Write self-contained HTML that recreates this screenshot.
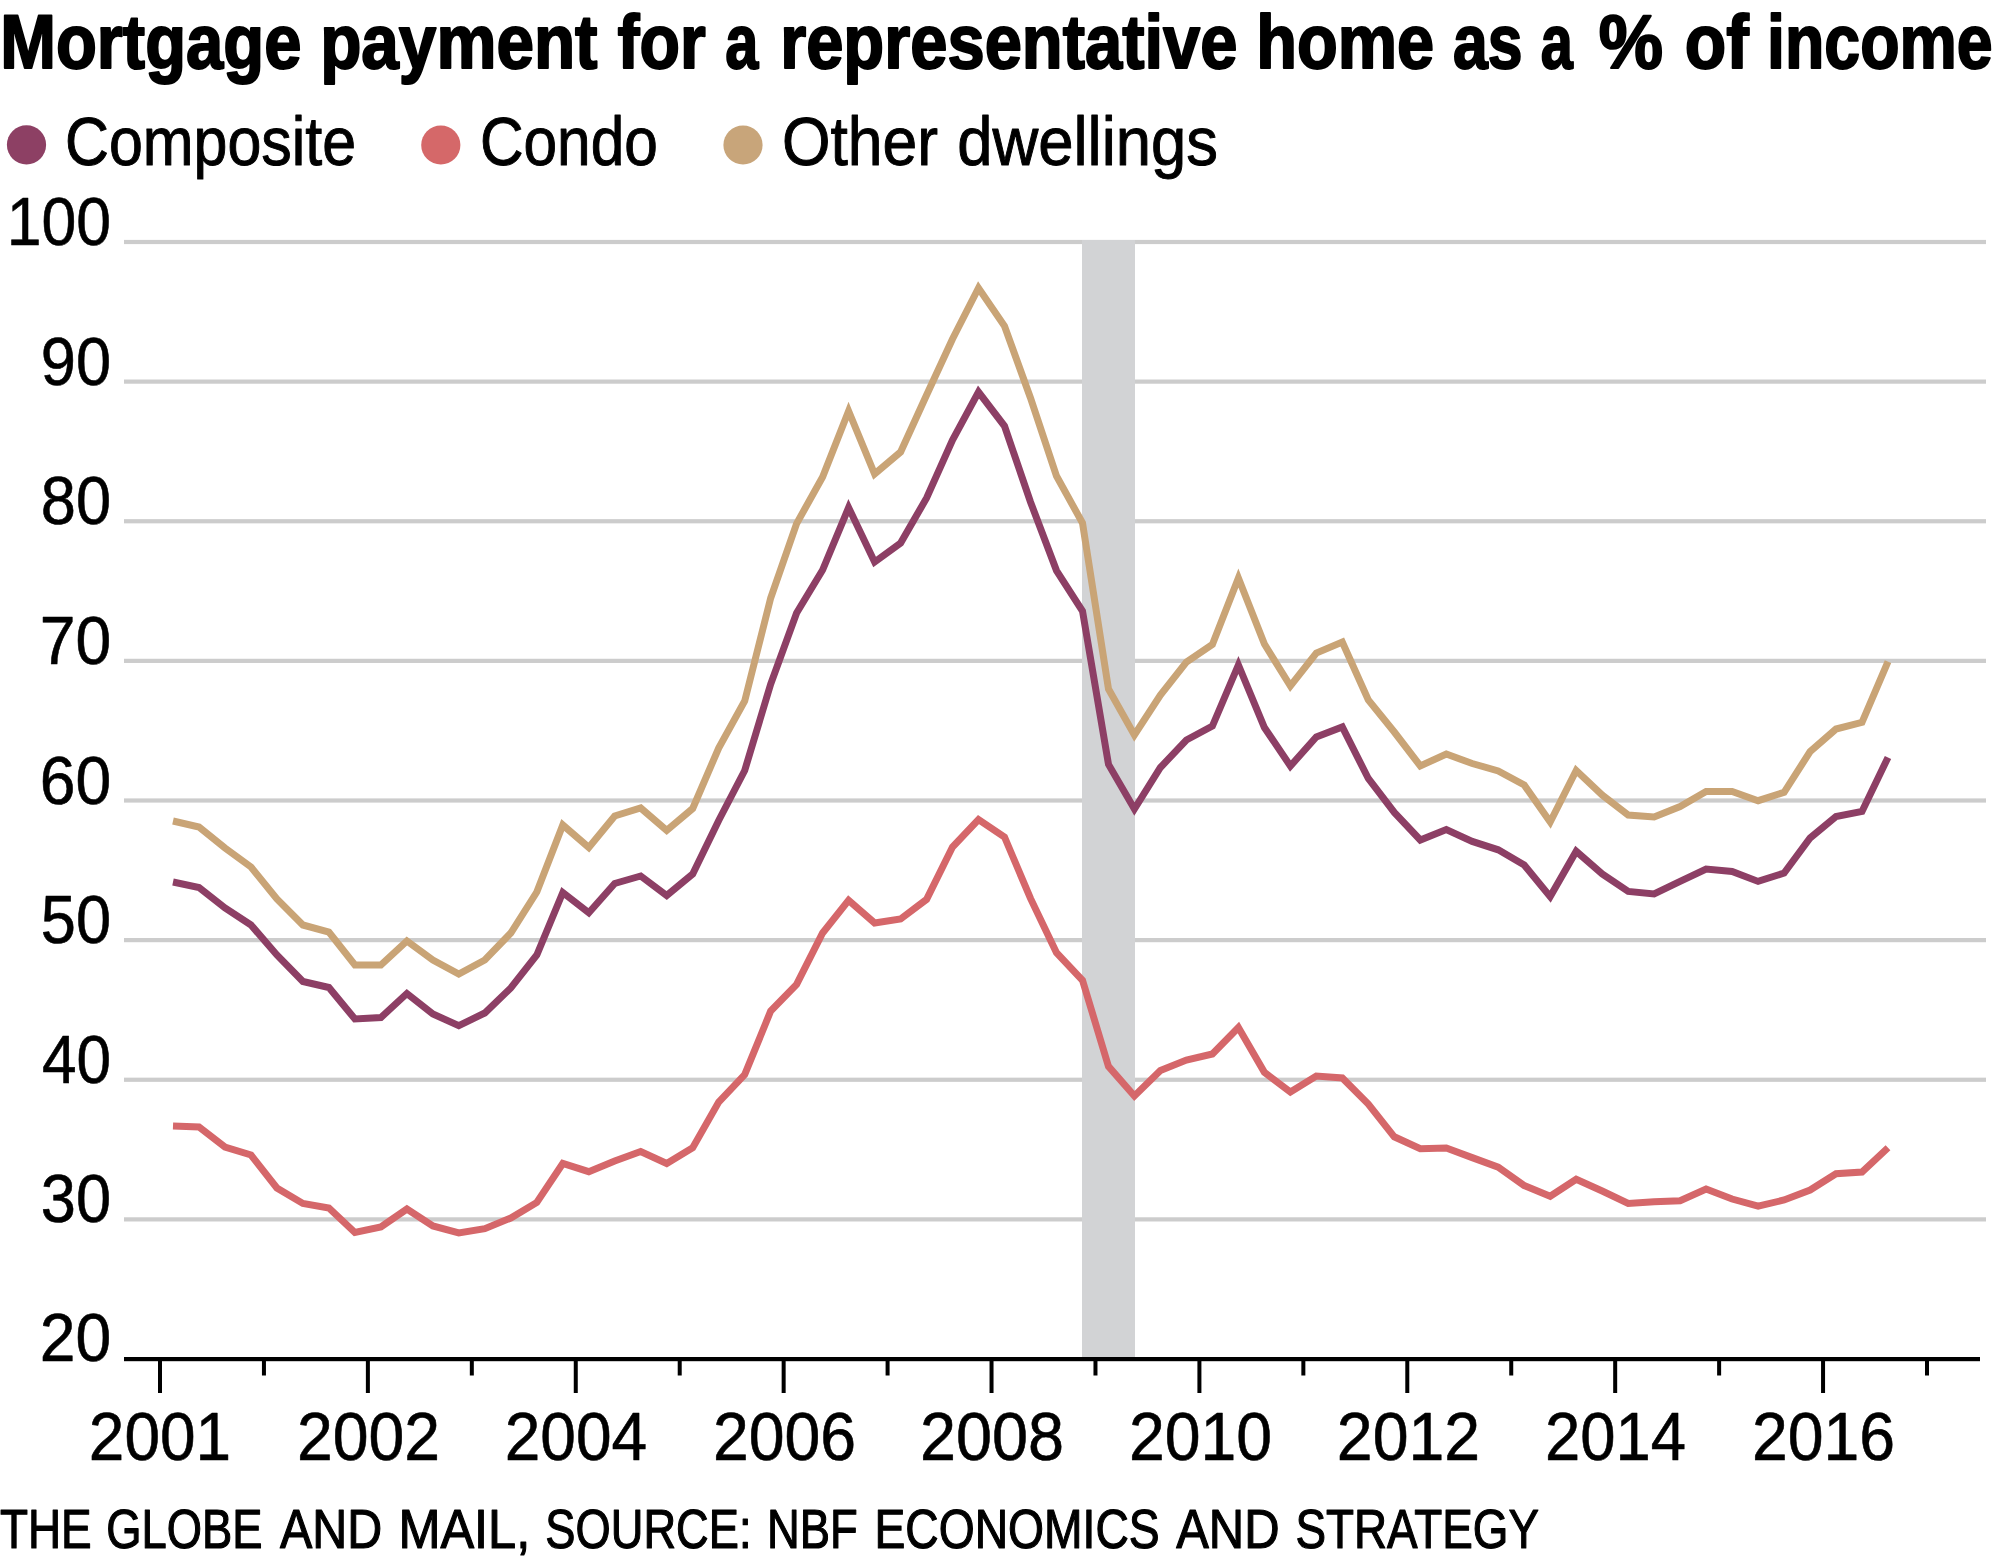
<!DOCTYPE html>
<html><head><meta charset="utf-8"><title>Mortgage payment chart</title><style>
html,body{margin:0;padding:0;background:#fff;}
body{width:2000px;height:1562px;overflow:hidden;}
svg{display:block;}
text{font-family:"Liberation Sans", sans-serif;fill:#000;}
</style></head><body>
<svg width="2000" height="1562" viewBox="0 0 2000 1562">
<rect x="0" y="0" width="2000" height="1562" fill="#fff"/>
<rect x="124" y="239.90" width="1862" height="4.2" fill="#cccccc"/>
<rect x="124" y="379.52" width="1862" height="4.2" fill="#cccccc"/>
<rect x="124" y="519.15" width="1862" height="4.2" fill="#cccccc"/>
<rect x="124" y="658.77" width="1862" height="4.2" fill="#cccccc"/>
<rect x="124" y="798.40" width="1862" height="4.2" fill="#cccccc"/>
<rect x="124" y="938.02" width="1862" height="4.2" fill="#cccccc"/>
<rect x="124" y="1077.65" width="1862" height="4.2" fill="#cccccc"/>
<rect x="124" y="1217.28" width="1862" height="4.2" fill="#cccccc"/>
<rect x="1082" y="240" width="53" height="1117" fill="#d2d3d5"/>
<rect x="124" y="1357" width="1856" height="4.2" fill="#000"/>
<rect x="158.00" y="1359" width="4" height="34" fill="#000"/>
<rect x="261.94" y="1359" width="4" height="16.5" fill="#000"/>
<rect x="365.88" y="1359" width="4" height="34" fill="#000"/>
<rect x="469.82" y="1359" width="4" height="16.5" fill="#000"/>
<rect x="573.76" y="1359" width="4" height="34" fill="#000"/>
<rect x="677.71" y="1359" width="4" height="16.5" fill="#000"/>
<rect x="781.65" y="1359" width="4" height="34" fill="#000"/>
<rect x="885.59" y="1359" width="4" height="16.5" fill="#000"/>
<rect x="989.53" y="1359" width="4" height="34" fill="#000"/>
<rect x="1093.47" y="1359" width="4" height="16.5" fill="#000"/>
<rect x="1197.41" y="1359" width="4" height="34" fill="#000"/>
<rect x="1301.35" y="1359" width="4" height="16.5" fill="#000"/>
<rect x="1405.29" y="1359" width="4" height="34" fill="#000"/>
<rect x="1509.24" y="1359" width="4" height="16.5" fill="#000"/>
<rect x="1613.18" y="1359" width="4" height="34" fill="#000"/>
<rect x="1717.12" y="1359" width="4" height="16.5" fill="#000"/>
<rect x="1821.06" y="1359" width="4" height="34" fill="#000"/>
<rect x="1925.00" y="1359" width="4" height="16.5" fill="#000"/>
<circle cx="26.5" cy="144.8" r="19.6" fill="#8d4064"/>
<circle cx="440.8" cy="145" r="19.6" fill="#d56869"/>
<circle cx="743" cy="145" r="19.6" fill="#c8a57a"/>
<polyline points="173.0,821.0 199.0,827.0 225.0,848.0 251.0,867.0 276.9,899.0 302.9,925.0 328.9,932.0 354.9,965.0 380.9,965.0 406.9,941.0 432.9,960.0 458.8,974.0 484.8,960.0 510.8,933.0 536.8,892.0 562.8,825.0 588.8,847.5 614.7,816.0 640.7,808.0 666.7,830.5 692.7,808.5 718.7,748.0 744.7,701.0 770.7,598.0 796.6,523.6 822.6,477.0 848.6,411.0 874.6,474.0 900.6,452.0 926.6,395.0 952.5,339.0 978.5,288.0 1004.5,326.0 1030.5,398.0 1056.5,476.0 1082.5,523.0 1108.5,689.0 1134.4,735.0 1160.4,695.0 1186.4,662.0 1212.4,644.5 1238.4,578.0 1264.4,644.0 1290.4,686.0 1316.3,653.0 1342.3,642.0 1368.3,700.0 1394.3,732.0 1420.3,766.0 1446.3,754.0 1472.2,763.5 1498.2,771.0 1524.2,785.0 1550.2,822.0 1576.2,770.5 1602.2,795.0 1628.2,815.0 1654.1,817.0 1680.1,806.5 1706.1,791.5 1732.1,791.5 1758.1,800.7 1784.1,792.3 1810.1,751.6 1836.0,729.0 1862.0,722.4 1888.0,661.6" fill="none" stroke="#c9a476" stroke-width="7" stroke-linejoin="miter" stroke-miterlimit="10" stroke-linecap="butt"/>
<polyline points="173.0,882.0 199.0,887.5 225.0,908.0 251.0,925.0 276.9,955.0 302.9,981.5 328.9,987.5 354.9,1019.0 380.9,1017.5 406.9,993.5 432.9,1014.0 458.8,1025.7 484.8,1013.0 510.8,988.0 536.8,955.0 562.8,892.5 588.8,912.7 614.7,883.5 640.7,876.0 666.7,895.5 692.7,874.0 718.7,820.5 744.7,770.5 770.7,684.0 796.6,613.0 822.6,570.0 848.6,507.6 874.6,562.0 900.6,543.0 926.6,498.0 952.5,440.0 978.5,392.0 1004.5,426.0 1030.5,502.0 1056.5,570.6 1082.5,611.0 1108.5,764.4 1134.4,809.0 1160.4,767.5 1186.4,740.0 1212.4,726.0 1238.4,665.0 1264.4,727.5 1290.4,766.0 1316.3,737.0 1342.3,727.0 1368.3,778.5 1394.3,812.5 1420.3,840.0 1446.3,829.5 1472.2,841.4 1498.2,849.8 1524.2,865.0 1550.2,896.6 1576.2,851.3 1602.2,874.0 1628.2,891.4 1654.1,894.0 1680.1,881.4 1706.1,869.0 1732.1,871.4 1758.1,881.4 1784.1,873.0 1810.1,838.0 1836.0,816.5 1862.0,811.5 1888.0,757.4" fill="none" stroke="#8d3f65" stroke-width="7" stroke-linejoin="miter" stroke-miterlimit="10" stroke-linecap="butt"/>
<polyline points="173.0,1126.0 199.0,1127.0 225.0,1147.0 251.0,1155.0 276.9,1188.0 302.9,1203.5 328.9,1208.0 354.9,1232.5 380.9,1227.0 406.9,1209.0 432.9,1226.0 458.8,1233.0 484.8,1228.7 510.8,1218.0 536.8,1202.5 562.8,1163.5 588.8,1171.7 614.7,1161.0 640.7,1151.5 666.7,1163.5 692.7,1147.7 718.7,1102.0 744.7,1074.6 770.7,1011.0 796.6,984.4 822.6,933.0 848.6,900.4 874.6,923.0 900.6,919.0 926.6,899.4 952.5,847.0 978.5,819.5 1004.5,837.0 1030.5,898.4 1056.5,952.7 1082.5,980.3 1108.5,1066.4 1134.4,1096.0 1160.4,1070.5 1186.4,1060.0 1212.4,1054.0 1238.4,1027.5 1264.4,1072.3 1290.4,1092.0 1316.3,1076.0 1342.3,1078.0 1368.3,1104.0 1394.3,1136.8 1420.3,1148.8 1446.3,1148.0 1472.2,1157.6 1498.2,1167.2 1524.2,1185.6 1550.2,1196.2 1576.2,1179.2 1602.2,1191.0 1628.2,1203.5 1654.1,1201.7 1680.1,1200.8 1706.1,1189.0 1732.1,1199.0 1758.1,1206.2 1784.1,1200.0 1810.1,1190.0 1836.0,1173.8 1862.0,1172.0 1888.0,1147.7" fill="none" stroke="#d5676a" stroke-width="7" stroke-linejoin="miter" stroke-miterlimit="10" stroke-linecap="butt"/>
<text x="0.13" y="68.00" font-size="76" font-weight="bold" textLength="301.29" lengthAdjust="spacingAndGlyphs" stroke="#000" stroke-width="2.0" stroke-linejoin="round">Mortgage</text>
<text x="320.15" y="68.00" font-size="76" font-weight="bold" textLength="277.44" lengthAdjust="spacingAndGlyphs" stroke="#000" stroke-width="2.0" stroke-linejoin="round">payment</text>
<text x="617.58" y="68.00" font-size="76" font-weight="bold" textLength="88.23" lengthAdjust="spacingAndGlyphs" stroke="#000" stroke-width="2.0" stroke-linejoin="round">for</text>
<text x="725.14" y="68.00" font-size="76" font-weight="bold" textLength="33.06" lengthAdjust="spacingAndGlyphs" stroke="#000" stroke-width="2.0" stroke-linejoin="round">a</text>
<text x="780.15" y="68.00" font-size="76" font-weight="bold" textLength="457.27" lengthAdjust="spacingAndGlyphs" stroke="#000" stroke-width="2.0" stroke-linejoin="round">representative</text>
<text x="1256.27" y="68.00" font-size="76" font-weight="bold" textLength="177.98" lengthAdjust="spacingAndGlyphs" stroke="#000" stroke-width="2.0" stroke-linejoin="round">home</text>
<text x="1452.96" y="68.00" font-size="76" font-weight="bold" textLength="69.52" lengthAdjust="spacingAndGlyphs" stroke="#000" stroke-width="2.0" stroke-linejoin="round">as</text>
<text x="1540.79" y="68.00" font-size="76" font-weight="bold" textLength="32.03" lengthAdjust="spacingAndGlyphs" stroke="#000" stroke-width="2.0" stroke-linejoin="round">a</text>
<text x="1598.77" y="68.00" font-size="76" font-weight="bold" textLength="64.29" lengthAdjust="spacingAndGlyphs" stroke="#000" stroke-width="2.0" stroke-linejoin="round">%</text>
<text x="1684.77" y="68.00" font-size="76" font-weight="bold" textLength="64.03" lengthAdjust="spacingAndGlyphs" stroke="#000" stroke-width="2.0" stroke-linejoin="round">of</text>
<text x="1767.10" y="68.00" font-size="76" font-weight="bold" textLength="225.53" lengthAdjust="spacingAndGlyphs" stroke="#000" stroke-width="2.0" stroke-linejoin="round">income</text>
<text x="64.95" y="165.00" font-size="69" textLength="291.09" lengthAdjust="spacingAndGlyphs" stroke="#000" stroke-width="1.0" stroke-linejoin="round">Composite</text>
<text x="479.91" y="165.00" font-size="69" textLength="177.95" lengthAdjust="spacingAndGlyphs" stroke="#000" stroke-width="1.0" stroke-linejoin="round">Condo</text>
<text x="781.94" y="165.00" font-size="69" textLength="156.08" lengthAdjust="spacingAndGlyphs" stroke="#000" stroke-width="1.0" stroke-linejoin="round">Other</text>
<text x="957.17" y="165.00" font-size="69" textLength="260.86" lengthAdjust="spacingAndGlyphs" stroke="#000" stroke-width="1.0" stroke-linejoin="round">dwellings</text>
<text x="-0.03" y="1548.00" font-size="55" textLength="91.70" lengthAdjust="spacingAndGlyphs" stroke="#000" stroke-width="1.2" stroke-linejoin="round">THE</text>
<text x="106.15" y="1548.00" font-size="55" textLength="156.28" lengthAdjust="spacingAndGlyphs" stroke="#000" stroke-width="1.2" stroke-linejoin="round">GLOBE</text>
<text x="280.00" y="1548.00" font-size="55" textLength="102.22" lengthAdjust="spacingAndGlyphs" stroke="#000" stroke-width="1.2" stroke-linejoin="round">AND</text>
<text x="398.39" y="1548.00" font-size="55" textLength="131.85" lengthAdjust="spacingAndGlyphs" stroke="#000" stroke-width="1.2" stroke-linejoin="round">MAIL,</text>
<text x="545.37" y="1548.00" font-size="55" textLength="206.11" lengthAdjust="spacingAndGlyphs" stroke="#000" stroke-width="1.2" stroke-linejoin="round">SOURCE:</text>
<text x="766.99" y="1548.00" font-size="55" textLength="90.68" lengthAdjust="spacingAndGlyphs" stroke="#000" stroke-width="1.2" stroke-linejoin="round">NBF</text>
<text x="874.54" y="1548.00" font-size="55" textLength="285.09" lengthAdjust="spacingAndGlyphs" stroke="#000" stroke-width="1.2" stroke-linejoin="round">ECONOMICS</text>
<text x="1176.19" y="1548.00" font-size="55" textLength="103.26" lengthAdjust="spacingAndGlyphs" stroke="#000" stroke-width="1.2" stroke-linejoin="round">AND</text>
<text x="1295.38" y="1548.00" font-size="55" textLength="243.63" lengthAdjust="spacingAndGlyphs" stroke="#000" stroke-width="1.2" stroke-linejoin="round">STRATEGY</text>
<text x="6.74" y="245.00" font-size="68.5" textLength="104.39" lengthAdjust="spacingAndGlyphs" stroke="#000" stroke-width="0.6" stroke-linejoin="round">100</text>
<text x="40.87" y="384.62" font-size="68.5" textLength="70.26" lengthAdjust="spacingAndGlyphs" stroke="#000" stroke-width="0.6" stroke-linejoin="round">90</text>
<text x="40.87" y="524.25" font-size="68.5" textLength="70.26" lengthAdjust="spacingAndGlyphs" stroke="#000" stroke-width="0.6" stroke-linejoin="round">80</text>
<text x="39.75" y="663.88" font-size="68.5" textLength="71.41" lengthAdjust="spacingAndGlyphs" stroke="#000" stroke-width="0.6" stroke-linejoin="round">70</text>
<text x="39.75" y="803.50" font-size="68.5" textLength="71.41" lengthAdjust="spacingAndGlyphs" stroke="#000" stroke-width="0.6" stroke-linejoin="round">60</text>
<text x="40.87" y="943.12" font-size="68.5" textLength="70.26" lengthAdjust="spacingAndGlyphs" stroke="#000" stroke-width="0.6" stroke-linejoin="round">50</text>
<text x="41.95" y="1082.75" font-size="68.5" textLength="69.14" lengthAdjust="spacingAndGlyphs" stroke="#000" stroke-width="0.6" stroke-linejoin="round">40</text>
<text x="40.87" y="1222.38" font-size="68.5" textLength="70.26" lengthAdjust="spacingAndGlyphs" stroke="#000" stroke-width="0.6" stroke-linejoin="round">30</text>
<text x="39.75" y="1361.00" font-size="68.5" textLength="71.41" lengthAdjust="spacingAndGlyphs" stroke="#000" stroke-width="0.6" stroke-linejoin="round">20</text>
<text x="88.86" y="1459.80" font-size="69" textLength="142.28" lengthAdjust="spacingAndGlyphs" stroke="#000" stroke-width="0.6" stroke-linejoin="round">2001</text>
<text x="296.89" y="1459.80" font-size="69" textLength="143.21" lengthAdjust="spacingAndGlyphs" stroke="#000" stroke-width="0.6" stroke-linejoin="round">2002</text>
<text x="504.71" y="1459.80" font-size="69" textLength="142.35" lengthAdjust="spacingAndGlyphs" stroke="#000" stroke-width="0.6" stroke-linejoin="round">2004</text>
<text x="712.91" y="1459.80" font-size="69" textLength="143.19" lengthAdjust="spacingAndGlyphs" stroke="#000" stroke-width="0.6" stroke-linejoin="round">2006</text>
<text x="920.09" y="1459.80" font-size="69" textLength="143.99" lengthAdjust="spacingAndGlyphs" stroke="#000" stroke-width="0.6" stroke-linejoin="round">2008</text>
<text x="1128.89" y="1459.80" font-size="69" textLength="143.19" lengthAdjust="spacingAndGlyphs" stroke="#000" stroke-width="0.6" stroke-linejoin="round">2010</text>
<text x="1336.86" y="1459.80" font-size="69" textLength="143.27" lengthAdjust="spacingAndGlyphs" stroke="#000" stroke-width="0.6" stroke-linejoin="round">2012</text>
<text x="1544.91" y="1459.80" font-size="69" textLength="141.12" lengthAdjust="spacingAndGlyphs" stroke="#000" stroke-width="0.6" stroke-linejoin="round">2014</text>
<text x="1751.89" y="1459.80" font-size="69" textLength="143.19" lengthAdjust="spacingAndGlyphs" stroke="#000" stroke-width="0.6" stroke-linejoin="round">2016</text>
</svg>
</body></html>
